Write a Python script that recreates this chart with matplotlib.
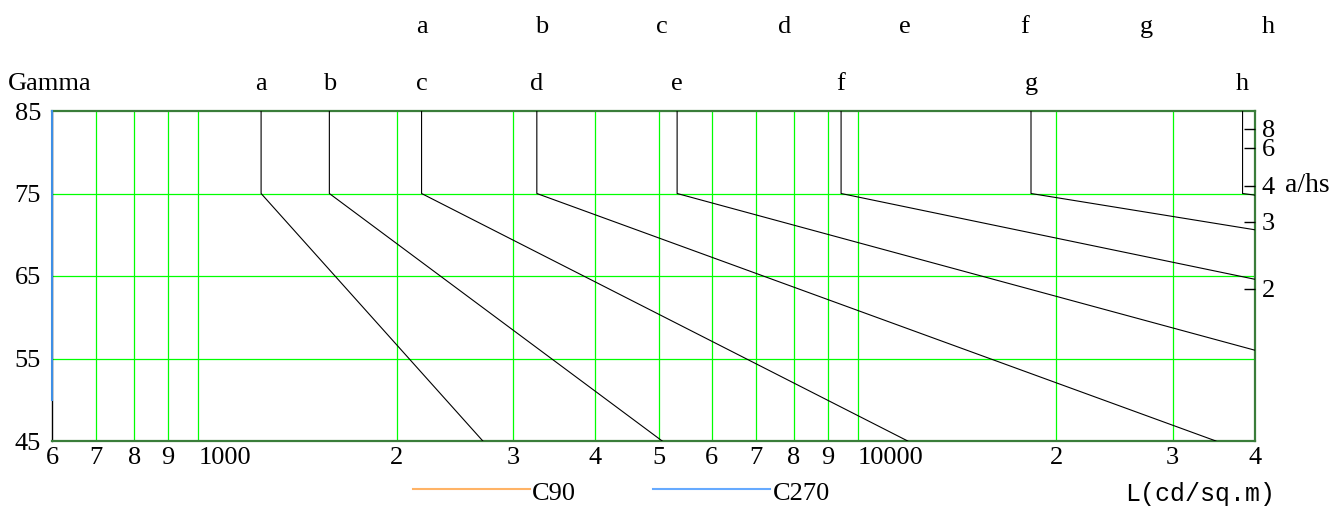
import numpy as np
import matplotlib.pyplot as plt
from matplotlib.lines import Line2D

plt.rcParams['font.family'] = ['Liberation Serif', 'DejaVu Serif']

# limit curves a..h: vertical part at L75 (gamma 85 -> 75), then straight to lower end
classes = ['a', 'b', 'c', 'd', 'e', 'f', 'g', 'h']
L75 = [1245, 1580, 2180, 3260, 5320, 9430, 18300, 38300]
low_L = [2700, 5050, 11900, 34900, 40000, 40000, 40000, 40000]
low_gamma = [45, 45, 45, 45, 56.0, 64.6, 70.6, 74.8]

# upper row of class letters (second scale)
top_L = [2180, 3310, 5050, 7730, 11800, 17900, 27400, 41900]

# C270 curve sits on the left edge
c270_L = [600, 600]
c270_gamma = [50, 85]

x_ticks = [600, 700, 800, 900, 1000, 2000, 3000, 4000, 5000, 6000, 7000, 8000,
           9000, 10000, 20000, 30000, 40000]
x_labels = ['6', '7', '8', '9', '1000', '2', '3', '4', '5', '6', '7', '8', '9',
            '10000', '2', '3', '4']
y_ticks = [45, 55, 65, 75, 85]
ahs = [8, 6, 4, 3, 2]

fig = plt.figure(figsize=(13.44, 5.09), dpi=100)
ax = fig.add_axes([52 / 1344, 1 - 441 / 509, 1203 / 1344, 330 / 509])
ax.set_xscale('log')
ax.set_xlim(600, 40000)
ax.set_ylim(45, 85)

for L in x_ticks[1:-1]:
    ax.axvline(L, color='#00ff00', lw=0.9, zorder=1)
for g in [55, 65, 75]:
    ax.axhline(g, color='#00ff00', lw=0.9, zorder=1)

for i in range(len(classes)):
    ax.plot([L75[i], L75[i], low_L[i]], [85, 75, low_gamma[i]],
            color='black', lw=0.8, zorder=3)

ax.plot(c270_L, c270_gamma, color='#3d8fe6', lw=1.5, zorder=4, clip_on=False)

ax.set_xticks(x_ticks)
ax.set_xticklabels(x_labels, fontsize=19)
ax.set_xticks([], minor=True)
for lab, txt in zip(ax.get_xticklabels(), x_labels):
    if len(txt) > 1:
        lab.set_horizontalalignment('left')
ax.set_yticks(y_ticks)
ax.set_yticklabels([str(v) for v in y_ticks], fontsize=19)
ax.tick_params(length=0, pad=4)
ax.tick_params(axis='y', pad=8)

for s in ['top', 'bottom', 'right']:
    ax.spines[s].set_color('#3a7d3a')
    ax.spines[s].set_linewidth(1.6)
ax.spines['left'].set_color('black')
ax.spines['left'].set_linewidth(1.0)

trans = ax.get_xaxis_transform()
for i, c in enumerate(classes):
    ax.text(L75[i], 1.082, c, transform=trans, ha='center', va='center', fontsize=19)
    ax.text(top_L[i], 1.255, c, transform=trans, ha='center', va='center',
            fontsize=19, clip_on=False)

# right a/hs scale
ax2 = ax.twinx()
ax2.set_ylim(45, 85)
ax2.set_yticks(np.degrees(np.arctan(ahs)))
ax2.set_yticklabels([str(v) for v in ahs], fontsize=19)
ax2.tick_params(axis='y', direction='in', length=8, width=1, pad=5, color='black')
for s in ax2.spines.values():
    s.set_visible(False)
ax2.text(1.025, np.degrees(np.arctan(4)), 'a/hs', transform=ax2.get_yaxis_transform(),
         ha='left', va='center', fontsize=20)

fig.text(8 / 1344, 1 - 84 / 509, 'Gamma', ha='left', va='center', fontsize=19)

# legend
yl = 1 - 489 / 509
fig.add_artist(Line2D([413 / 1344, 530 / 1344], [yl, yl], color='#ffb366', lw=1.5))
fig.text(532 / 1344, 1 - 494 / 509, 'C90', ha='left', va='center', fontsize=19)
fig.add_artist(Line2D([653 / 1344, 770 / 1344], [yl, yl], color='#66aaff', lw=1.5))
fig.text(773 / 1344, 1 - 494 / 509, 'C270', ha='left', va='center', fontsize=19)
fig.text(1125 / 1344, 1 - 494 / 509, 'L(cd/sq.m)', ha='left', va='center',
         fontsize=18, family=['Liberation Mono', 'DejaVu Sans Mono'])

fig.savefig('out.png', dpi=100)
